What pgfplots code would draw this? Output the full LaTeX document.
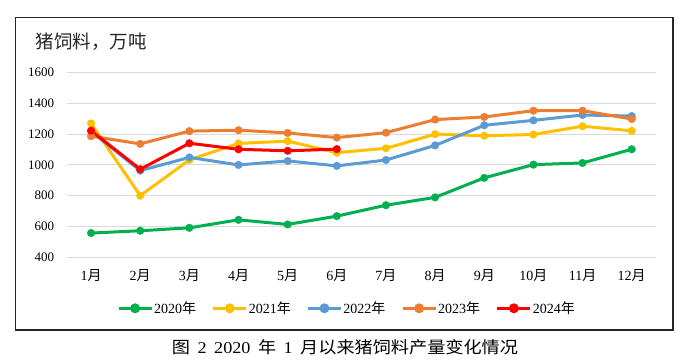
\documentclass[border=0pt]{standalone}
\usepackage{pgfplots}
\pgfplotsset{compat=1.18}
\usepackage{fontspec}
\setmainfont{Liberation Serif}
\newfontfamily\cjk{Noto Sans CJK SC}
\newfontfamily\cjkw[FakeStretch=1.1]{Noto Sans CJK SC}
\newfontfamily\serw[FakeStretch=1.1]{Liberation Serif}
\definecolor{cA}{HTML}{00B050}
\definecolor{cB}{HTML}{FFC000}
\definecolor{cC}{HTML}{5B9BD5}
\definecolor{cD}{HTML}{ED7D31}
\definecolor{cE}{HTML}{FF0000}
\newcommand{\M}{{\cjk 月}}
\newcommand{\Y}{{\cjk 年}}
\begin{document}
\begin{tikzpicture}
\useasboundingbox (0,0) rectangle (687bp,364bp);
\fill[white] (0,0) rectangle (687bp,364bp);
\draw[line width=1.5bp, black!85] (15.7bp,34bp) rectangle (673bp,346.7bp);
\node[anchor=west, inner sep=0pt, font=\cjk\fontsize{18.5bp}{20bp}\selectfont, text=black!85] at (35.5bp,322.3bp) {猪饲料，万吨};
\node[anchor=center, inner sep=0pt, font=\serw\fontsize{16.5bp}{18bp}\selectfont] at (345bp,17bp) {{\cjkw 图}\hspace{7.5bp}2\hspace{7.5bp}2020\hspace{7.5bp}{\cjkw 年}\hspace{7.5bp}1\hspace{7.5bp}{\cjkw 月以来猪饲料产量变化情况}};
\begin{axis}[
  at={(66.5bp,106.8bp)}, anchor=south west, scale only axis,
  width=589.8bp, height=184.5bp,
  xmin=0.5, xmax=12.5, ymin=400, ymax=1600,
  ytick={400,600,...,1600}, xtick={1,...,12},
  xticklabels={1\M,2\M,3\M,4\M,5\M,6\M,7\M,8\M,9\M,10\M,11\M,12\M},
  axis line style={draw=none}, major tick length=0pt,
  ymajorgrids, grid style={draw=black!15, line width=1bp},
  /pgf/number format/assume math mode=true, /pgf/number format/1000 sep={},
  yticklabel style={font=\fontsize{13bp}{15bp}\selectfont, inner sep=0pt, anchor=east, xshift=-12.2bp},
  xticklabel style={font=\fontsize{14bp}{16bp}\selectfont, inner sep=0pt, anchor=center, yshift=-18.6bp},
  clip=false,
  legend style={at={(axis description cs:0.4747,-0.277)}, anchor=center, draw=none, fill=none,
    legend columns=5, font=\fontsize{14bp}{16bp}\selectfont, inner sep=0pt,
    nodes={inner sep=1bp}, /tikz/every even column/.append style={column sep=14.7bp}},
  legend image code/.code={\draw[#1,line width=3bp] (0bp,0bp) -- (33bp,0bp); \fill[#1] (16.5bp,0bp) circle (3.4bp);},
  every axis plot/.append style={line width=3bp, mark=*, mark size=3.8bp, mark options={line width=0.4bp}},
]
\addplot[color=cA] coordinates {(1,557)(2,572)(3,591)(4,643)(5,613)(6,667)(7,738)(8,789)(9,916)(10,1002)(11,1013)(12,1102)};
\addlegendentry{2020\Y}
\addplot[color=cB] coordinates {(1,1270)(2,800)(3,1033)(4,1140)(5,1155)(6,1080)(7,1108)(8,1200)(9,1190)(10,1198)(11,1252)(12,1222)};
\addlegendentry{2021\Y}
\addplot[color=cC] coordinates {(1,1218)(2,963)(3,1049)(4,1000)(5,1026)(6,994)(7,1032)(8,1127)(9,1258)(10,1290)(11,1325)(12,1318)};
\addlegendentry{2022\Y}
\addplot[color=cD] coordinates {(1,1187)(2,1137)(3,1220)(4,1226)(5,1208)(6,1178)(7,1210)(8,1295)(9,1312)(10,1353)(11,1353)(12,1299)};
\addlegendentry{2023\Y}
\addplot[color=cE] coordinates {(1,1223)(2,972)(3,1141)(4,1102)(5,1092)(6,1103)};
\addlegendentry{2024\Y}
\end{axis}
\end{tikzpicture}
\end{document}
